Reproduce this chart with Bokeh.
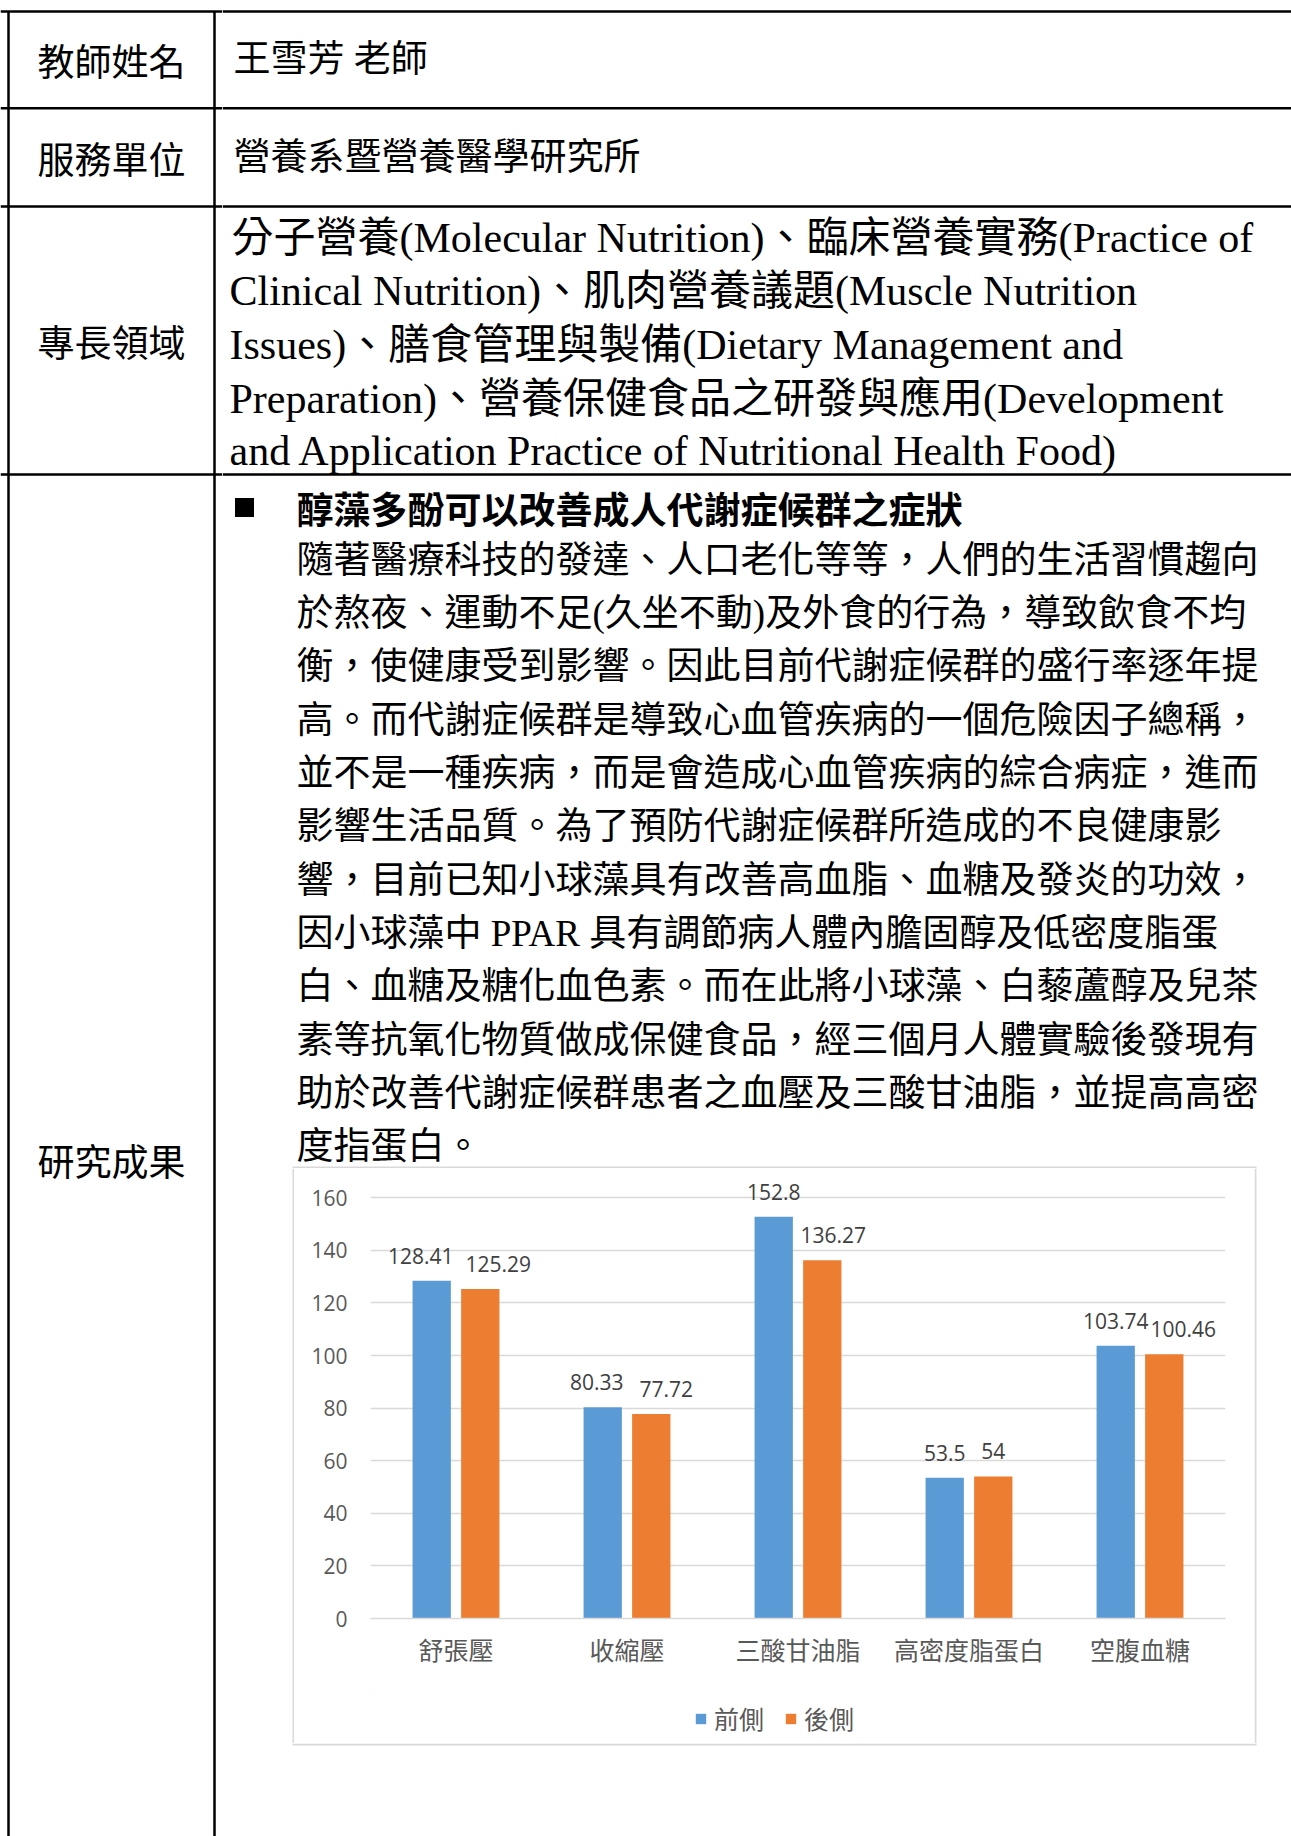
from bokeh.plotting import figure
from bokeh.models import (Range1d, FactorRange, ColumnDataSource, Legend,
                          LegendItem, FixedTicker)
from bokeh.layouts import row, column
from bokeh.transform import dodge
from bokeh.core.properties import value
from bokeh.embed import file_html
from bokeh.resources import INLINE

# ---------------- chart data ----------------
categories = ["舒張壓", "收縮壓", "三酸甘油脂", "高密度脂蛋白", "空腹血糖"]
series_names = ["前側", "後側"]
before_values = [128.41, 80.33, 152.8, 53.5, 103.74]
after_values = [125.29, 77.72, 136.27, 54, 100.46]
y_ticks = [0, 20, 40, 60, 80, 100, 120, 140, 160]

# ---------------- document text ----------------
row_labels = ["教師姓名", "服務單位", "專長領域", "研究成果"]
teacher_name = "王雪芳 老師"
department = "營養系暨營養醫學研究所"
expertise_lines = [
    "分子營養(Molecular Nutrition)、臨床營養實務(Practice of",
    "Clinical Nutrition)、肌肉營養議題(Muscle Nutrition",
    "Issues)、膳食管理與製備(Dietary Management and",
    "Preparation)、營養保健食品之研發與應用(Development",
    "and Application Practice of Nutritional Health Food)",
]
heading = "醇藻多酚可以改善成人代謝症候群之症狀"
paragraph_lines = [
    "隨著醫療科技的發達、人口老化等等，人們的生活習慣趨向",
    "於熬夜、運動不足(久坐不動)及外食的行為，導致飲食不均",
    "衡，使健康受到影響。因此目前代謝症候群的盛行率逐年提",
    "高。而代謝症候群是導致心血管疾病的一個危險因子總稱，",
    "並不是一種疾病，而是會造成心血管疾病的綜合病症，進而",
    "影響生活品質。為了預防代謝症候群所造成的不良健康影",
    "響，目前已知小球藻具有改善高血脂、血糖及發炎的功效，",
    "因小球藻中 PPAR 具有調節病人體內膽固醇及低密度脂蛋",
    "白、血糖及糖化血色素。而在此將小球藻、白藜蘆醇及兒茶",
    "素等抗氧化物質做成保健食品，經三個月人體實驗後發現有",
    "助於改善代謝症候群患者之血壓及三酸甘油脂，並提高高密",
    "度指蛋白。",
]

BODY_FONT = value("'Liberation Serif', 'Noto Sans CJK TC'")
CJK_FONT = value("Noto Sans CJK TC")
NUM_FONT = value("Open Sans")
BLUE, ORANGE = "#5b9bd5", "#ed7d31"

PAGE_W, PAGE_H = 1291, 1836
LEFT_W = 222
TOP_H = 1168
CHART_X0, CHART_W = 294, 960
CHART_H = 522          # plot part of the chart box
LEG_H = 53             # legend strip of the chart box
MID_Y1 = TOP_H + CHART_H + LEG_H

RULES_Y = [11, 107.7, 206, 474]
BORDER_X = 8
DIVIDER_X = 214
BOX_COLOR = "#d9d9d9"


def sheet(x0, x1, y0, y1):
    p = figure(width=int(x1 - x0), height=int(y1 - y0),
               x_range=Range1d(x0, x1), y_range=Range1d(y1, y0),
               x_axis_type=None, y_axis_type=None,
               output_backend="svg", toolbar_location=None, min_border=0)
    p.outline_line_color = None
    p.background_fill_color = "white"
    p.border_fill_color = "white"
    p.grid.visible = False
    return p


# ---------- left column (labels) ----------
left = sheet(0, LEFT_W, 0, PAGE_H)
left.segment(x0=[0] * len(RULES_Y), y0=RULES_Y, x1=[LEFT_W] * len(RULES_Y), y1=RULES_Y,
             line_color="black", line_width=2.5)
left.segment(x0=[BORDER_X, DIVIDER_X], y0=[RULES_Y[0]] * 2, x1=[BORDER_X, DIVIDER_X],
             y1=[PAGE_H, PAGE_H], line_color="black", line_width=2.5)
left.text(x=[111] * 4, y=[59.4, 157, 340, 1159], text=row_labels,
          text_font=CJK_FONT, text_font_size="37px", text_align="center",
          text_baseline="middle", text_color="black")

# ---------- right top (content cells) ----------
top = sheet(LEFT_W, PAGE_W, 0, TOP_H)
top.segment(x0=[LEFT_W] * len(RULES_Y), y0=RULES_Y, x1=[PAGE_W] * len(RULES_Y), y1=RULES_Y,
            line_color="black", line_width=2.5)
top.text(x=[233, 233], y=[59.4, 157], text=[teacher_name, department],
         text_font=BODY_FONT, text_font_size="37px", text_baseline="middle",
         text_color="black")
top.text(x=[231, 229, 229, 229, 229], y=[237.6, 290, 344, 398, 450], text=expertise_lines,
         text_font=BODY_FONT, text_font_size="42px", text_baseline="middle",
         text_color="black")
top.rect(x=[244], y=[507], width=19, height=19, fill_color="black", line_color=None)
top.text(x=[296], y=[507], text=[heading], text_font=CJK_FONT, text_font_style="bold",
         text_font_size="37px", text_baseline="middle", text_color="black")
top.text(x=[296] * len(paragraph_lines),
         y=[559.5 + 53.35 * i for i in range(len(paragraph_lines))],
         text=paragraph_lines, text_font=BODY_FONT, text_font_size="37px",
         text_baseline="middle", text_color="black")
top.segment(x0=[CHART_X0 - 2], y0=[TOP_H - 1], x1=[CHART_X0 + CHART_W + 2], y1=[TOP_H - 1],
            line_color=BOX_COLOR, line_width=2)

# ---------- chart side strips ----------
spacer = sheet(LEFT_W, CHART_X0, TOP_H, MID_Y1)
spacer.segment(x0=[CHART_X0 - 1], y0=[TOP_H], x1=[CHART_X0 - 1], y1=[MID_Y1],
               line_color=BOX_COLOR, line_width=2)
right = sheet(CHART_X0 + CHART_W, PAGE_W, TOP_H, MID_Y1)
right.segment(x0=[CHART_X0 + CHART_W + 1], y0=[TOP_H], x1=[CHART_X0 + CHART_W + 1],
              y1=[MID_Y1], line_color=BOX_COLOR, line_width=2)

bottom = sheet(LEFT_W, PAGE_W, MID_Y1, PAGE_H)
bottom.segment(x0=[CHART_X0 - 2], y0=[MID_Y1 + 1], x1=[CHART_X0 + CHART_W + 2],
               y1=[MID_Y1 + 1], line_color=BOX_COLOR, line_width=2)

# ---------- bar chart ----------
src = ColumnDataSource(dict(
    cat=categories,
    before=before_values,
    after=after_values,
    before_label=[f"{v:g}" for v in before_values],
    after_label=[f"{v:g}" for v in after_values],
    before_nudge=[-11, -6, 0, 0, 0],
    after_nudge=[18, 15, 11, 0, 19],
))

chart = figure(x_range=FactorRange(factors=categories, range_padding=0),
               y_range=Range1d(0, 169.6), width=CHART_W, height=CHART_H,
               min_border_left=76, min_border_right=29, min_border_top=4,
               min_border_bottom=72, output_backend="svg", toolbar_location=None)
chart.outline_line_color = None
chart.background_fill_color = "white"
chart.border_fill_color = "white"

chart.xgrid.grid_line_color = None
chart.ygrid.grid_line_color = BOX_COLOR
chart.ygrid.grid_line_width = 1.5

chart.yaxis.ticker = FixedTicker(ticks=y_ticks)
chart.yaxis.axis_line_color = None
chart.yaxis.major_tick_line_color = None
chart.yaxis.minor_tick_line_color = None
chart.yaxis.major_tick_out = 0
chart.yaxis.major_label_standoff = 23
chart.yaxis.major_label_text_font = "Open Sans"
chart.yaxis.major_label_text_font_size = "21px"
chart.yaxis.major_label_text_color = "#595959"

chart.xaxis.axis_line_color = BOX_COLOR
chart.xaxis.axis_line_width = 1.5
chart.xaxis.major_tick_line_color = None
chart.xaxis.major_tick_out = 0
chart.xaxis.major_tick_in = 0
chart.xaxis.major_label_standoff = 12
chart.xaxis.major_label_text_font = "Noto Sans CJK TC"
chart.xaxis.major_label_text_font_size = "25px"
chart.xaxis.major_label_text_color = "#595959"

OFF = 0.142
BW = 0.224
chart.vbar(x=dodge("cat", -OFF, range=chart.x_range), top="before", width=BW,
           source=src, fill_color=BLUE, line_color=None)
chart.vbar(x=dodge("cat", OFF, range=chart.x_range), top="after", width=BW,
           source=src, fill_color=ORANGE, line_color=None)

chart.text(x=dodge("cat", -OFF, range=chart.x_range), y="before", text="before_label",
           source=src, x_offset="before_nudge", y_offset=-25, text_align="center",
           text_baseline="middle", text_font=NUM_FONT, text_font_size="21px",
           text_color="#404040")
chart.text(x=dodge("cat", OFF, range=chart.x_range), y="after", text="after_label",
           source=src, x_offset="after_nudge", y_offset=-25, text_align="center",
           text_baseline="middle", text_font=NUM_FONT, text_font_size="21px",
           text_color="#404040")

# ---------- legend strip (inside the chart box) ----------
leg = sheet(CHART_X0, CHART_X0 + CHART_W, TOP_H + CHART_H, MID_Y1)
# swatch renderers for the legend (their single bar lies outside the visible strip)
lr1 = leg.vbar(x=[0], top=[TOP_H], bottom=[TOP_H + 1], width=1, fill_color=BLUE,
               line_color=None)
lr2 = leg.vbar(x=[0], top=[TOP_H], bottom=[TOP_H + 1], width=1, fill_color=ORANGE,
               line_color=None)
legend = Legend(items=[LegendItem(label=series_names[0], renderers=[lr1]),
                       LegendItem(label=series_names[1], renderers=[lr2])],
                orientation="horizontal", location=(324, 7),
                glyph_width=13, glyph_height=13, label_standoff=7, spacing=20,
                padding=0, margin=0, border_line_color=None,
                background_fill_alpha=0, label_text_font="Noto Sans CJK TC",
                label_text_font_size="25px", label_text_color="#595959")
leg.add_layout(legend)

page = row(left, column(top, row(spacer, column(chart, leg), right), bottom))

open("out.html", "w").write(file_html(page, INLINE))
